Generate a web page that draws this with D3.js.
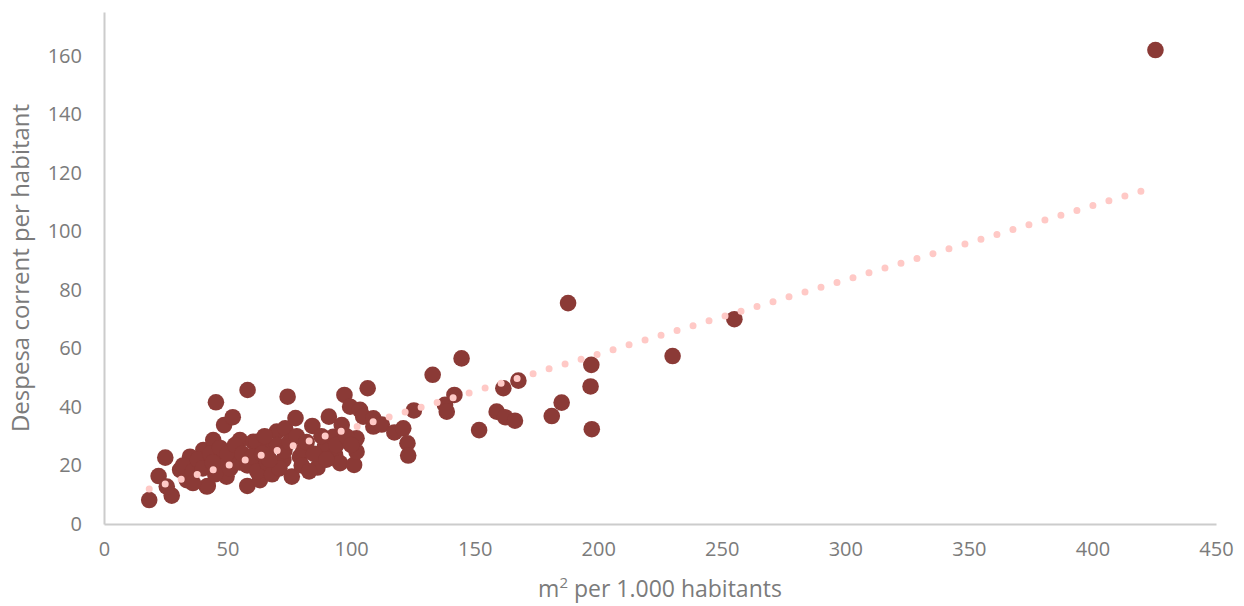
<!DOCTYPE html>
<html>
<head>
<meta charset="utf-8">
<script src="https://cdn.jsdelivr.net/npm/d3@7"></script>
<style>
  body { margin: 0; background: #fff; }
  svg { display: block; font-family: "Open Sans", sans-serif; }
</style>
</head>
<body>
<svg width="1244" height="606"></svg>
<script>
const svg_ = d3.select('svg');

const W = 1244;
const H = 606;

const MARGINS = { TOP: 12, LEFT: 104, RIGHT: 28, BOTTOM: 82 };

// m2 per 1.000 habitants
const m2 = [
    18.3, 27.4, 22.1, 24.8, 25.4, 30.8, 33.5, 34.8, 40.2, 41.6,
    42.0, 44.2, 45.3, 46.9, 48.6, 49.6, 52.1, 52.3, 55.0, 58.0,
    58.1, 60.4, 61.8, 63.1, 64.5, 66.5, 69.9, 72.6, 73.3, 74.3,
    76.0, 77.5, 79.3, 80.7, 84.3, 86.4, 89.4, 91.0, 92.8, 93.5,
    95.5, 96.2, 97.3, 99.6, 101.2, 102.2, 102.2, 103.6, 104.9, 106.7,
    109.0, 109.0, 112.4, 117.5, 121.1, 122.8, 123.1, 125.4, 133.0, 138.0,
    138.7, 141.8, 144.7, 151.8, 158.9, 161.6, 162.3, 166.3, 167.7, 181.2,
    185.2, 187.8, 197.2, 196.9, 197.4, 230.1, 255.1, 425.5,
    32, 36, 38, 40, 43, 45, 47, 50, 51, 53,
    55, 56, 58, 60, 62, 64, 66, 68, 70, 71,
    73, 75, 78, 80, 82, 85, 88, 90, 94, 98,
    100, 36, 44, 65, 67, 83
];

// despesa corrent per habitant
const despesa = [
    8.2, 9.7, 16.4, 22.7, 12.8, 18.5, 15.0, 23.0, 25.3, 12.8,
    13.0, 28.7, 41.6, 20.8, 33.8, 16.2, 36.5, 22.5, 28.7, 13.0,
    45.8, 28.1, 28.1, 15.0, 19.6, 25.9, 31.6, 21.9, 32.7, 43.5,
    16.2, 36.2, 23.0, 25.3, 33.5, 19.3, 26.4, 36.7, 29.8, 23.6,
    20.8, 33.8, 44.1, 40.1, 20.2, 24.7, 29.3, 39.0, 36.7, 46.4,
    33.3, 36.1, 34.0, 31.3, 32.7, 27.6, 23.4, 38.8, 51.0, 40.7,
    38.4, 44.1, 56.6, 32.1, 38.4, 46.4, 36.5, 35.3, 49.0, 36.9,
    41.5, 75.5, 54.4, 47.0, 32.4, 57.4, 70.0, 162.0,
    20, 18, 22, 19, 24, 17, 26, 24, 19, 27,
    21, 24, 20, 23, 18, 24, 21, 17, 27, 19,
    25, 28, 30, 20, 28, 24, 30, 22, 27, 30,
    27, 14, 21, 30, 22, 18
];

const X_TICKS = [0, 50, 100, 150, 200, 250, 300, 350, 400, 450];
const Y_TICKS = [0, 20, 40, 60, 80, 100, 120, 140, 160];

const points = m2.map((d, i) => ({ x: d, y: despesa[i] }));

const x = d3.scaleLinear()
    .domain([0, 450])
    .range([MARGINS.LEFT, W - MARGINS.RIGHT]);

const y = d3.scaleLinear()
    .domain([0, 175])
    .range([H - MARGINS.BOTTOM, MARGINS.TOP]);

// axes
const xAxis = svg_.append("g")
    .attr("transform", `translate(0,${H - MARGINS.BOTTOM})`)
    .call(d3.axisBottom(x).tickValues(X_TICKS).tickSize(0).tickPadding(18));

const yAxis = svg_.append("g")
    .attr("transform", `translate(${MARGINS.LEFT},0)`)
    .call(d3.axisLeft(y).tickValues(Y_TICKS).tickSize(0).tickPadding(22));

[xAxis, yAxis].forEach(a => {
    a.select(".domain").attr("stroke", "#cccccc").attr("stroke-width", 2);
    a.selectAll("text")
        .attr("fill", "#7b7b7b")
        .style("font-size", "20px")
        .style("font-family", "'Open Sans', sans-serif");
});

// points
svg_.append("g")
    .selectAll("circle")
    .data(points)
    .join("circle")
    .attr("cx", d => x(d.x))
    .attr("cy", d => y(d.y))
    .attr("r", 8.3)
    .attr("fill", "#8b3a36");

// linear trend (least squares)
const mx = d3.mean(points, d => d.x);
const my = d3.mean(points, d => d.y);
const slope = d3.sum(points, d => (d.x - mx) * (d.y - my)) / d3.sum(points, d => (d.x - mx) ** 2);
const intercept = my - slope * mx;
const [x0, x1] = d3.extent(points, d => d.x);

svg_.append("line")
    .attr("x1", x(x0))
    .attr("y1", y(intercept + slope * x0))
    .attr("x2", x(x1))
    .attr("y2", y(intercept + slope * x1))
    .attr("stroke", "#ffc9c6")
    .attr("stroke-width", 7)
    .attr("stroke-linecap", "round")
    .attr("stroke-dasharray", "0 16.7");

// titles
svg_.append("text")
    .attr("transform", `translate(29,${(MARGINS.TOP + H - MARGINS.BOTTOM) / 2}) rotate(-90)`)
    .attr("text-anchor", "middle")
    .attr("fill", "#7b7b7b")
    .style("font-size", "24px")
    .text("Despesa corrent per habitant");

const xt = svg_.append("text")
    .attr("x", (MARGINS.LEFT + W - MARGINS.RIGHT) / 2)
    .attr("y", 597)
    .attr("text-anchor", "middle")
    .attr("fill", "#7b7b7b")
    .style("font-size", "23px");
xt.append("tspan").text("m");
xt.append("tspan").attr("dy", -9).style("font-size", "15px").text("2");
xt.append("tspan").attr("dy", 9).text(" per 1.000 habitants");
</script>
</body>
</html>
